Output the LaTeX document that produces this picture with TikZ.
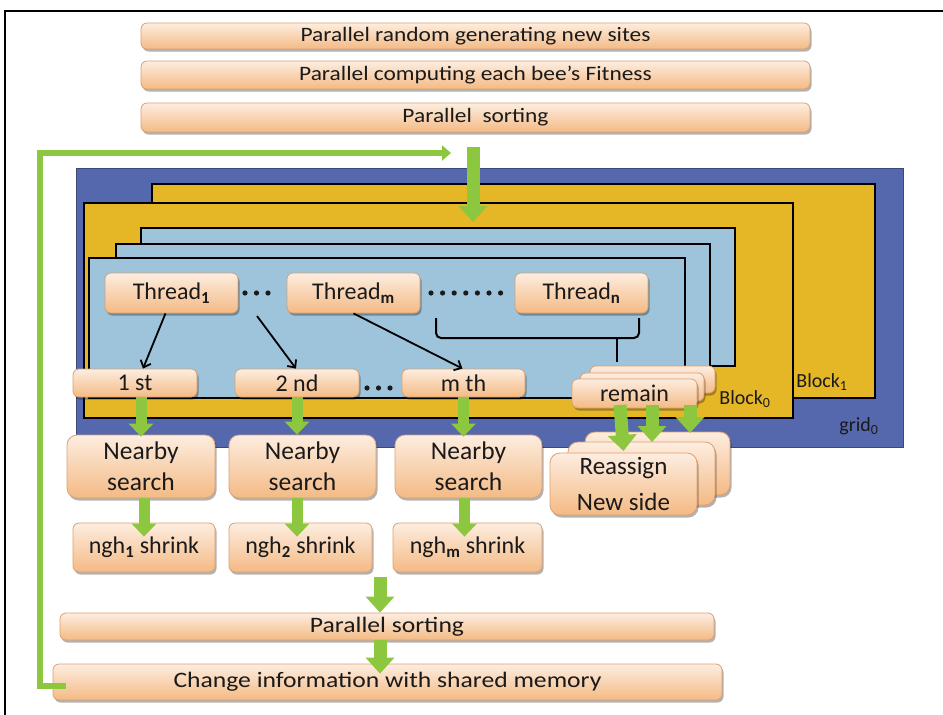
\documentclass[tikz,border=0pt]{standalone}
\usepackage{fontspec}
\usepackage{graphicx}
\setmainfont{Carlito}
\usetikzlibrary{arrows.meta,shadows,calc}
\definecolor{boxtop}{HTML}{FDEDE0}
\definecolor{boxbot}{HTML}{F4BA84}
\definecolor{boxdraw}{HTML}{DDA070}
\definecolor{gridblue}{HTML}{5568AD}
\definecolor{blockyel}{HTML}{E5B726}
\definecolor{thrblue}{HTML}{9DC4DA}
\definecolor{agreen}{HTML}{8DC63F}
\definecolor{txt}{HTML}{1A1A1A}
\newcommand{\wideT}[1]{\scalebox{1.2}[1.05]{#1}}
\begin{document}
\begin{tikzpicture}[x=1pt,y=-1pt,
  obox/.style={draw=boxdraw, line width=0.8pt, rounded corners=6pt,
    top color=boxtop, bottom color=boxbot, inner sep=0pt, text=txt,
    drop shadow={shadow xshift=1.5pt, shadow yshift=-2.5pt, opacity=0.3, fill=black},
    font=\fontsize{24}{29}\selectfont},
  barbox/.style={obox, font=\fontsize{19.5}{23}\selectfont},
  lowbar/.style={obox, font=\fontsize{21}{25}\selectfont},
  bigbox/.style={obox, rounded corners=10pt, align=center},
  garrow/.style={agreen, line width=11pt, -{Triangle[width=24pt,length=13pt]}},
  garrowb/.style={agreen, line width=13pt, -{Triangle[width=28pt,length=16pt]}},
  barrow/.style={black, line width=1.8pt, -{Straight Barb[length=6pt,width=11pt]}},
  lbl/.style={inner sep=0pt, text=txt, font=\fontsize{20}{24}\selectfont},
  dotc/.style={fill=txt, draw=none}
]
\useasboundingbox (0,0) rectangle (943,715);
% outer frame
\draw[line width=2pt] (5,715) -- (5,11) -- (943,11);

% top bars
\node[barbox, minimum width=669pt, minimum height=26pt] (bar1) at (475.5,36) {\wideT{Parallel random generating new sites}};
\node[barbox, minimum width=669pt, minimum height=28pt] (bar2) at (475.5,75) {\wideT{Parallel computing each bee’s Fitness}};
\node[barbox, minimum width=669pt, minimum height=29pt] (bar3) at (475.5,117.5) {\wideT{Parallel \ sorting}};

% grid and blocks
\fill[gridblue] (76,168) rectangle (903,447);
\draw[gridblue!70!black, line width=0.6pt] (76,168) rectangle (903,447);
\draw[fill=blockyel, line width=1.6pt] (152,184) rectangle (875,398);
\draw[fill=blockyel, line width=1.6pt] (84,203) rectangle (793,418);
\draw[fill=thrblue, line width=1.6pt] (141,228) rectangle (735,366);
\draw[fill=thrblue, line width=1.6pt] (116,244) rectangle (710,382);
\draw[fill=thrblue, line width=1.6pt] (89,258) rectangle (685,398);

\node[lbl] (blk1) at (822,382) {Block\textsubscript{1}};
\node[lbl] (blk0) at (745,399) {Block\textsubscript{0}};
\node[lbl] (grid0) at (859,426) {grid\textsubscript{0}};

% loop arrow and entry arrow
\coordinate (loopstart) at (66,686);
\coordinate (looptip) at (451,153);
\coordinate (entry) at (473,147);
\coordinate (entryend) at (473,222);

% threads
\node[obox, minimum width=133pt, minimum height=40pt] (th1) at (171.5,293) {Thread\textsubscript{\textbf{1}}};
\node[obox, minimum width=133pt, minimum height=40pt] (thm) at (353.5,293) {Thread\textsubscript{\textbf{m}}};
\node[obox, minimum width=133pt, minimum height=40pt] (thn) at (581.5,293) {Thread\textsubscript{\textbf{n}}};
\foreach \x in {245,256.5,268} \fill[dotc] (\x,293) circle (2.6pt);
\foreach \i in {0,...,6} \fill[dotc] (431+11.6*\i,293) circle (2.6pt);

% brace
\draw[line width=2pt, rounded corners=5pt] (436,318) -- (436,338) -- (639,338) -- (639,318);
\draw[line width=2pt] (617,338) -- (617,362);

% order boxes
\node[obox, minimum width=124pt, minimum height=28pt] (st1) at (135,383) {1 st};
\node[obox, minimum width=124pt, minimum height=28pt] (nd2) at (297,383) {2 nd};
\node[obox, minimum width=123pt, minimum height=28pt] (mth) at (463.5,383) {m th};
\foreach \x in {367,378.5,390} \fill[dotc] (\x,388) circle (2.6pt);
\node[obox, minimum width=125pt, minimum height=27pt] (remc) at (652.5,379.5) {};
\node[obox, minimum width=124pt, minimum height=28pt] (remb) at (642,387) {};
\node[obox, minimum width=125pt, minimum height=29pt] (rema) at (634.5,393.5) {remain};

% thread arrows
\draw[barrow] ([xshift=-6pt]th1.south) -- ([xshift=8pt]st1.north);
\draw[barrow] (257,316) -- ([xshift=-1pt]nd2.north);
\draw[barrow] (thm.south) -- ([xshift=-1pt]mth.north);

% nearby search
\node[bigbox, minimum width=148pt, minimum height=63pt, font=\fontsize{25.5}{31}\selectfont] (nb1) at (141,466.5) {Nearby\\search};
\node[bigbox, minimum width=147pt, minimum height=63pt, font=\fontsize{25.5}{31}\selectfont] (nb2) at (302.5,466.5) {Nearby\\search};
\node[bigbox, minimum width=147pt, minimum height=63pt, font=\fontsize{25.5}{31}\selectfont] (nb3) at (468.5,466.5) {Nearby\\search};

% reassign stack
\node[bigbox, minimum width=145pt, minimum height=63pt] (rec) at (657.5,463.5) {};
\node[bigbox, minimum width=147pt, minimum height=63pt] (reb) at (641.5,473.5) {};
\node[bigbox, minimum width=147pt, minimum height=62pt, font=\fontsize{25}{36}\selectfont] (rea) at (623.5,484) {Reassign\\New side};

% shrink
\node[obox, minimum width=142pt, minimum height=49pt] (sh1) at (144,547.5) {ngh\textsubscript{\textbf{1}} shrink};
\node[obox, minimum width=143pt, minimum height=49pt] (sh2) at (300.5,547.5) {ngh\textsubscript{\textbf{2}} shrink};
\node[obox, minimum width=149pt, minimum height=49pt] (sh3) at (467.5,547.5) {ngh\textsubscript{\textbf{m}} shrink};

% bottom bars
\node[lowbar, minimum width=654pt, minimum height=27pt] (psort) at (387,626.5) {\scalebox{1.22}[1.05]{Parallel sorting}};
\node[lowbar, minimum width=669pt, minimum height=36pt] (change) at (387.5,682) {\scalebox{1.22}[1.05]{Change information with shared memory}};

% green arrows
\draw[agreen, line width=6pt, -{Triangle[width=15pt,length=9pt]}] (loopstart) -- (40,686) -- (40,153) -- (looptip);
\draw[garrowb] (entry) -- (entryend);
\draw[garrow] (nb1.north |- st1.south) -- ([yshift=-2pt]nb1.north);
\draw[garrow] (nd2.south) -- (nd2.south |- nb2.north);
\draw[garrow] (mth.south) -- ([yshift=-2pt]mth.south |- nb3.north);
\draw[garrow] (sh1.north |- nb1.south) -- ([yshift=-14pt]sh1.north);
\draw[garrow] (nd2.south |- nb2.south) -- ([yshift=-14pt]nd2.south |- sh2.north);
\draw[garrow] ([xshift=1pt]mth.south |- nb3.south) -- ([xshift=1pt,yshift=-14pt]mth.south |- sh3.north);
\draw[garrowb] (620,405) -- ([yshift=2pt]620,453 -| rea.north);
\draw[garrowb] (652,405) -- (652,442);
\draw[garrowb] (690,405) -- (690,433);
\coordinate (sortin) at (380,577);
\draw[garrowb] (sortin) -- (sortin |- psort.north);
\draw[garrowb] (sortin |- psort.south) -- ([yshift=-10pt]sortin |- change.north);
\end{tikzpicture}
\end{document}
